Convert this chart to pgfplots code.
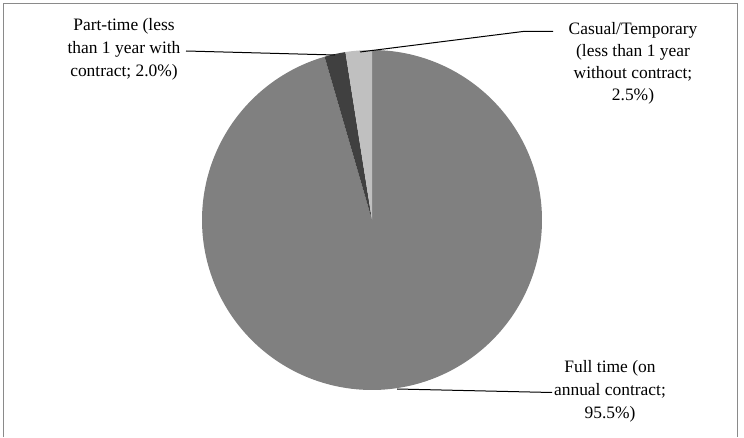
\documentclass[border=0pt]{standalone}
\usepackage{pgfplots}
\usepackage{pgfplotstable}
\pgfplotsset{compat=1.18}
\usepackage{fontspec}
\setmainfont{Liberation Serif}

\definecolor{fullgray}{RGB}{128,128,128}
\definecolor{partgray}{RGB}{64,64,64}
\definecolor{casgray}{RGB}{192,192,192}
\definecolor{framegray}{RGB}{138,138,138}

% employment type shares, percent
\pgfplotstableread{
share
95.5
2.0
2.5
}\shares

\begin{document}
\begin{tikzpicture}
\pgfplotstablegetelem{0}{share}\of\shares \let\sFull\pgfplotsretval
\pgfplotstablegetelem{1}{share}\of\shares \let\sPart\pgfplotsretval
\pgfplotstablegetelem{2}{share}\of\shares \let\sCas\pgfplotsretval
% slice boundaries, degrees clockwise from 12 o'clock
\pgfmathsetmacro\aA{3.6*\sFull}
\pgfmathsetmacro\aB{\aA+3.6*\sPart}
\pgfmathsetmacro\aC{\aB+3.6*\sCas}
\begin{axis}[hide axis, scale only axis, width=744bp, height=437bp,
  xmin=0, xmax=744, ymin=0, ymax=437, clip=false]
  \path (axis cs:0,0) rectangle (axis cs:744,437);
  \draw[framegray, line width=1.3bp] (axis cs:3.5,0) -- (axis cs:3.5,433.5)
     -- (axis cs:737.5,433.5) -- (axis cs:737.5,0);
  \addplot[fill=fullgray, draw=none, domain=0:\aA, samples=240, variable=\t]
     ({372+170*sin(\t)},{217+170*cos(\t)}) -- (axis cs:372,217) -- cycle;
  \addplot[fill=partgray, draw=none, domain=\aA:\aB, samples=20, variable=\t]
     ({372+170*sin(\t)},{217+170*cos(\t)}) -- (axis cs:372,217) -- cycle;
  \addplot[fill=casgray, draw=none, domain=\aB:\aC, samples=20, variable=\t]
     ({372+170*sin(\t)},{217+170*cos(\t)}) -- (axis cs:372,217) -- cycle;
  % leader lines
  \draw[black, line width=1bp] (axis cs:186,386) -- (axis cs:335,382);
  \draw[black, line width=1bp] (axis cs:553,405.5) -- (axis cs:523,405.5) -- (axis cs:360,385);
  \draw[black, line width=1bp] (axis cs:397,48) -- (axis cs:552,44.5);
  % labels
  \tikzset{lbl/.style={align=center, inner sep=0pt, font=\fontsize{17.5}{23}\selectfont}}
  \node[lbl] at (axis cs:124,388) {Part-time (less\\than 1 year with\\contract; 2.0\%)};
  \node[lbl, font=\fontsize{17.5}{22}\selectfont] at (axis cs:633,374) {Casual/Temporary\\(less than 1 year\\without contract;\\2.5\%)};
  \node[lbl] at (axis cs:610,46) {Full time (on\\annual contract;\\95.5\%)};
\end{axis}
\end{tikzpicture}
\end{document}
